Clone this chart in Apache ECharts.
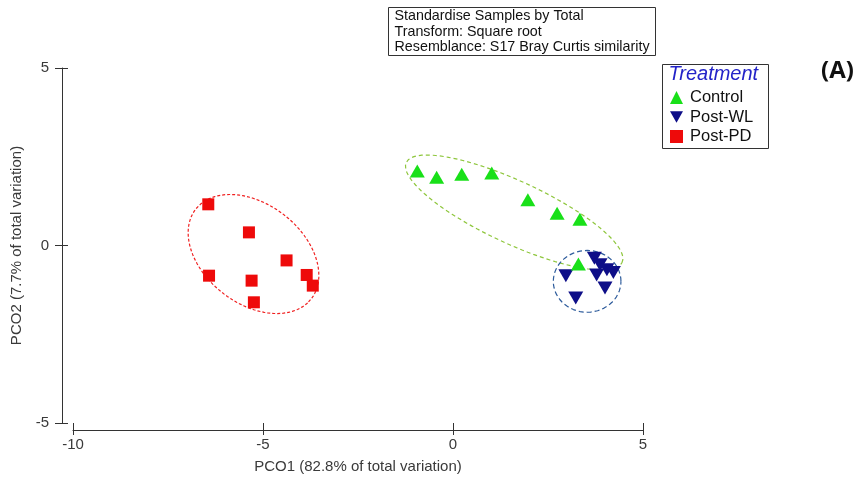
<!DOCTYPE html>
<html>
<head>
<meta charset="utf-8">
<script src="https://cdn.jsdelivr.net/npm/echarts@6/dist/echarts.min.js"></script>
<style>
  html, body { margin: 0; padding: 0; background: #fff; }
  #chart { width: 857px; height: 480px; }
</style>
</head>
<body>
<div id="chart"></div>
<script>
// PCO ordination scores (PCO1, PCO2) for each treatment group
const controlPts = [[-0.94, 2.10], [-0.43, 1.92], [0.23, 2.01], [1.02, 2.04], [1.97, 1.29], [2.74, 0.91], [3.34, 0.74], [3.30, -0.52]];
const postWLPts = [[2.97, -0.85], [3.23, -1.48], [3.72, -0.36], [3.87, -0.54], [4.05, -0.68], [4.22, -0.76], [3.78, -0.83], [4.00, -1.20]];
const postPDPts = [[-6.44, 1.16], [-5.37, 0.37], [-4.38, -0.42], [-6.42, -0.85], [-5.30, -0.99], [-3.85, -0.83], [-3.69, -1.13], [-5.24, -1.60]];

// Group ellipses: centre, semi-axes and rotation (degrees) in PCO units
const controlEllipse = [1.61, 0.93, 3.17, 0.87, -26.6];
const postWLEllipse = [3.53, -1.01, 0.89, 0.87, 0];
const postPDEllipse = [-5.25, -0.24, 1.98, 1.36, -43];

const xTicks = [-10, -5, 0, 5];
const yTicks = [-5, 0, 5];
const groupNames = ['Control', 'Post-WL', 'Post-PD'];
const infoLines = ['Standardise Samples by Total', 'Transform: Square root', 'Resemblance: S17 Bray Curtis similarity'];

function ellipsePath(e) {
  const [cx, cy, a, b, deg] = e;
  const th = deg * Math.PI / 180;
  const pts = [];
  for (let i = 0; i <= 120; i++) {
    const t = i / 120 * 2 * Math.PI;
    const x = a * Math.cos(t), y = b * Math.sin(t);
    pts.push([cx + x * Math.cos(th) - y * Math.sin(th), cy + x * Math.sin(th) + y * Math.cos(th)]);
  }
  return pts;
}

const font = 'Liberation Sans, Arial, sans-serif';
const axisCol = '#333';
const labelCol = '#3a3a3a';

const baseX = {
  type: 'value', min: xTicks[0], max: xTicks[xTicks.length - 1], interval: 5,
  splitLine: { show: false }
};
const baseY = {
  type: 'value', min: yTicks[0], max: yTicks[yTicks.length - 1], interval: 5,
  splitLine: { show: false }
};

const chart = echarts.init(document.getElementById('chart'), null, { renderer: 'canvas' });
chart.setOption({
  animation: false,
  backgroundColor: '#fff',
  grid: { left: 73, right: 214, top: 68, bottom: 57 },
  xAxis: [
    Object.assign({}, baseX, {
      position: 'bottom', offset: 7,
      axisLine: { onZero: false, lineStyle: { color: axisCol, width: 1 } },
      axisTick: { inside: true, length: 7, lineStyle: { color: axisCol } },
      axisLabel: { color: labelCol, fontFamily: font, fontSize: 15, margin: 7 },
      name: 'PCO1 (82.8% of total variation)', nameLocation: 'middle', nameGap: 29,
      nameTextStyle: { color: labelCol, fontFamily: font, fontSize: 15 }
    }),
    Object.assign({}, baseX, {
      position: 'bottom', offset: 7,
      axisLine: { show: false, onZero: false },
      axisTick: { inside: false, length: 5, lineStyle: { color: axisCol } },
      axisLabel: { show: false }
    })
  ],
  yAxis: [
    Object.assign({}, baseY, {
      position: 'left', offset: 11,
      axisLine: { onZero: false, lineStyle: { color: axisCol, width: 1 } },
      axisTick: { inside: false, length: 7, lineStyle: { color: axisCol } },
      axisLabel: { color: labelCol, fontFamily: font, fontSize: 15, margin: 13 },
      name: 'PCO2 (7.7% of total variation)', nameLocation: 'middle', nameGap: 37,
      nameTextStyle: { color: labelCol, fontFamily: font, fontSize: 15 }
    }),
    Object.assign({}, baseY, {
      position: 'left', offset: 11,
      axisLine: { show: false, onZero: false },
      axisTick: { inside: true, length: 6, lineStyle: { color: axisCol } },
      axisLabel: { show: false }
    })
  ],
  legend: {
    left: 665, top: 84, orient: 'vertical',
    itemWidth: 13, itemHeight: 13, itemGap: 2.5,
    selectedMode: false,
    textStyle: { fontFamily: font, fontSize: 16.5, color: '#111', padding: [0, 0, 0, 2] },
    data: [
      { name: groupNames[0], icon: 'triangle' },
      { name: groupNames[1], icon: 'path://M0,0L10,0L5,9Z' },
      { name: groupNames[2], icon: 'rect' }
    ]
  },
  graphic: [
    {
      type: 'group', left: 388, top: 7,
      children: [
        { type: 'rect', shape: { x: 0, y: 0, width: 267, height: 48 }, style: { fill: '#fff', stroke: '#333', lineWidth: 1 } },
        { type: 'text', x: 6, y: 1, style: { text: infoLines.join('\n'), font: '14.3px ' + font, fill: '#111', lineHeight: 15.5 } }
      ]
    },
    {
      type: 'group', left: 660, top: 62,
      children: [
        { type: 'rect', shape: { x: 0, y: 0, width: 106, height: 84 }, style: { fill: 'none', stroke: '#333', lineWidth: 1 } },
        { type: 'text', x: 6, y: 0, style: { text: 'Treatment', font: 'italic 20px ' + font, fill: '#2323c8' } }
      ]
    },
    { type: 'text', left: 821, top: 59, style: { text: '(A)', font: 'bold 24px Open Sans, Liberation Sans, sans-serif', fill: '#111' } }
  ],
  series: [
    {
      name: 'Control ellipse', type: 'line', data: ellipsePath(controlEllipse), showSymbol: false, silent: true,
      lineStyle: { color: '#8ec63c', width: 1.2, type: [4, 3] }, z: 1
    },
    {
      name: 'Post-WL ellipse', type: 'line', data: ellipsePath(postWLEllipse), showSymbol: false, silent: true,
      lineStyle: { color: '#2e5c9c', width: 1.2, type: [5, 3] }, z: 1
    },
    {
      name: 'Post-PD ellipse', type: 'line', data: ellipsePath(postPDEllipse), showSymbol: false, silent: true,
      lineStyle: { color: '#f02020', width: 1.2, type: [3, 2] }, z: 1
    },
    {
      name: groupNames[0], type: 'scatter', data: controlPts, symbol: 'triangle', symbolSize: [15, 13],
      itemStyle: { color: '#19e019', opacity: 1 }, z: 3
    },
    {
      name: groupNames[1], type: 'scatter', data: postWLPts, symbol: 'triangle', symbolRotate: 180, symbolSize: [15, 13],
      itemStyle: { color: '#0e0e88', opacity: 1 }, z: 2
    },
    {
      name: groupNames[2], type: 'scatter', data: postPDPts, symbol: 'rect', symbolSize: 12,
      itemStyle: { color: '#ee0a0a', opacity: 1 }, z: 3
    }
  ]
});
</script>
</body>
</html>
